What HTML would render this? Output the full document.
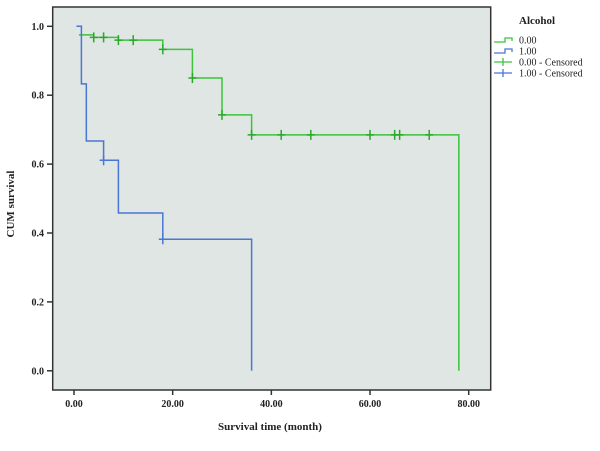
<!DOCTYPE html>
<html><head><meta charset="utf-8"><style>
body{margin:0;background:#fff;}
svg text{font-family:"Liberation Serif",serif;font-weight:bold;fill:#222;}
</style></head><body>
<svg width="600" height="446">
<g id="plot"></g>
</svg>
<script>
const xTicks=[0,20,40,60,80];
const xTickLabels=["0.00","20.00","40.00","60.00","80.00"];
const yTicks=[0,0.2,0.4,0.6,0.8,1.0];
const yTickLabels=["0.0","0.2","0.4","0.6","0.8","1.0"];
const g0Times=[1,4,9,18,24,30,36,78];
const g0Surv=[0.975,0.968,0.960,0.933,0.85,0.743,0.685,0];
const g0Censor=[4,6,9,12,18,24,30,36,42,48,60,65,66,72];
const g1Times=[0.5,1.5,2.5,6,9,18,36];
const g1Surv=[1.0,0.833,0.667,0.611,0.458,0.382,0];
const g1Censor=[6,18];
const X=t=>74+t*(468.7-74)/80;
const Y=v=>370.8-v*(370.8-26.3);
const NS="http://www.w3.org/2000/svg";
const svg=document.querySelector('svg');
function el(tag,attrs,parent){const e=document.createElementNS(NS,tag);for(const k in attrs)e.setAttribute(k,attrs[k]);(parent||svg).appendChild(e);return e;}
const bg=el('rect',{x:52.7,y:7,width:438,height:383,fill:'#dfe6e3',stroke:'#333','stroke-width':1.5});


xTicks.forEach((t,i)=>{
 const tk=el('line',{x1:X(t),x2:X(t),y1:390,y2:395,stroke:'#333','stroke-width':1.5});
 
 
 const tx=el('text',{x:X(t),y:407,'text-anchor':'middle','font-size':10});
 tx.textContent=xTickLabels[i];
 
 
});
yTicks.forEach((v,i)=>{
 const tk=el('line',{x1:47,x2:52.7,y1:Y(v),y2:Y(v),stroke:'#333','stroke-width':1.5});
 
 
 const tx=el('text',{x:44,y:Y(v)+3.5,'text-anchor':'end','font-size':10});
 tx.textContent=yTickLabels[i];
 
 
});
const xt=el('text',{x:270,y:430,'text-anchor':'middle','font-size':11});
xt.textContent='Survival time (month)';


const yt=el('text',{x:0,y:0,'text-anchor':'middle','font-size':11,transform:'translate(14,204) rotate(-90)'});
yt.textContent='CUM survival';


function curve(times,surv,start,color,name){
 let d='M'+X(times[0])+','+Y(start);
 let prev=start;
 times.forEach((t,i)=>{d+=' L'+X(t)+','+Y(prev)+' L'+X(t)+','+Y(surv[i]);prev=surv[i];});
 const p=el('path',{d:d,fill:'none',stroke:color,'stroke-width':1.5});
 
 
}
function survAt(times,surv,start,t){let s=start;times.forEach((tt,i)=>{if(tt<=t)s=surv[i];});return s;}
function censors(cs,times,surv,start,color,name){
 cs.forEach(t=>{const v=survAt(times,surv,start,t);
  const c=el('path',{d:`M${X(t)},${Y(v)-5}V${Y(v)+5}M${X(t)-4},${Y(v)}H${X(t)+4}`,stroke:color,'stroke-width':1.5});
  
  
 });
}
curve(g0Times,g0Surv,0.975,'#3cc43c','curve-alcohol-0');
curve(g1Times,g1Surv,1.0,'#4a76d6','curve-alcohol-1');
censors(g0Censor,g0Times,g0Surv,0.975,'#2aa82a','censor-alcohol-0');
censors(g1Censor,g1Times,g1Surv,1.0,'#4a76d6','censor-alcohol-1');
const lt=el('text',{x:519,y:24,'font-size':11});
lt.textContent='Alcohol';


const items=[['0.00','#3cc43c',0],['1.00','#4a76d6',0],['0.00 - Censored','#3cc43c',1],['1.00 - Censored','#4a76d6',1]];
items.forEach((it,i)=>{
 const y=40+i*11;
 const d=it[2]?`M494,${y}H512M503,${y-4}V${y+4}`:`M494,${y+2}H505V${y-2}H512V${y+1}`;
 const p=el('path',{d:d,fill:'none',stroke:it[1],'stroke-width':1.3});
 
 
 const t=el('text',{x:519,y:y+3.5,'font-size':10,style:'font-weight:normal'});
 t.textContent=it[0];
 
 
});
</script>
</body></html>
